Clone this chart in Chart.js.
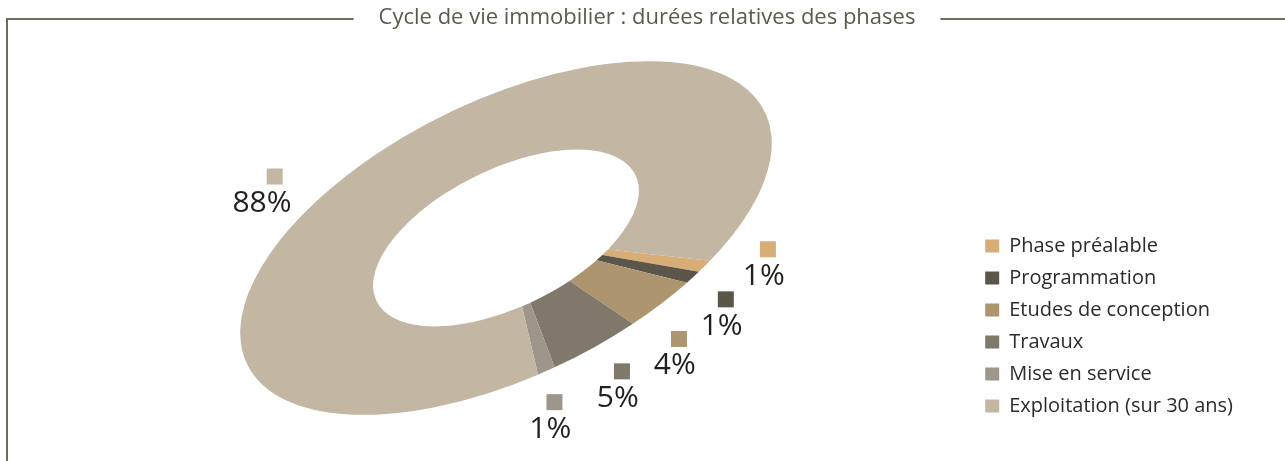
<!DOCTYPE html>
<html lang="fr">
<head>
<meta charset="utf-8">
<title>Cycle de vie immobilier</title>
<script src="https://cdn.jsdelivr.net/npm/chart.js@4.4.1/dist/chart.umd.min.js"></script>
<style>
  html, body { margin: 0; padding: 0; background: #fff; }
  .canvas-container { position: relative; width: 1285px; height: 461px; }
</style>
</head>
<body>
<div class="canvas-container"><canvas id="myChart"></canvas></div>
<script>
const chartTitle = 'Cycle de vie immobilier : durées relatives des phases'
const phases = ['Phase préalable', 'Programmation', 'Etudes de conception', 'Travaux', 'Mise en service', 'Exploitation (sur 30 ans)']
const shares = [1, 1, 4, 5, 1, 88]
const phaseColors = ['#d9ad78', '#5a5649', '#ad9570', '#80786b', '#9e968a', '#c3b6a3']

// where the % tags sit: angle shift (deg) from the slice middle, radius factor
const labelNudge = [[-6.2, 1.21], [3.3, 1.25], [4.9, 1.27], [-0.9, 1.25], [0.2, 1.23], [-13.5, 1.30]]

// the ring is drawn as a tilted ellipse, like the print
const ring = { cx: 506, cy: 238, r: 288, tilt: 26 * Math.PI / 180, flat: 0.478 }

const toScreen = (angle, radius) => {
  const dx = Math.cos(angle) * radius
  const dy = Math.sin(angle) * radius * ring.flat
  const c = Math.cos(ring.tilt), s = Math.sin(ring.tilt)
  return { x: ring.cx + dx * c + dy * s, y: ring.cy - dx * s + dy * c }
}

const framePlugin = {
  id: 'frame',
  beforeDraw(chart) {
    const ctx = chart.ctx
    ctx.save()
    ctx.font = '22px "Open Sans"'
    const tw = ctx.measureText(chartTitle).width
    const tx = 647, ly = 19
    ctx.strokeStyle = '#6d6c5e'
    ctx.lineWidth = 2
    ctx.beginPath()
    ctx.moveTo(7, chart.height)
    ctx.lineTo(7, ly)
    ctx.lineTo(tx - tw / 2 - 25, ly)
    ctx.moveTo(tx + tw / 2 + 25, ly)
    ctx.lineTo(chart.width, ly)
    ctx.stroke()
    ctx.fillStyle = '#5b5a4c'
    ctx.textAlign = 'center'
    ctx.textBaseline = 'middle'
    ctx.fillText(chartTitle, tx, 18)
    ctx.restore()
  }
}

const tiltPlugin = {
  id: 'tilt',
  beforeDatasetsDraw(chart) {
    const arc = chart.getDatasetMeta(0).data[0]
    const k = ring.r / arc.outerRadius
    const ctx = chart.ctx
    ctx.save()
    ctx.translate(ring.cx, ring.cy)
    ctx.rotate(-ring.tilt)
    ctx.scale(k, k * ring.flat)
    ctx.translate(-arc.x, -arc.y)
  },
  afterDatasetsDraw(chart) {
    const ctx = chart.ctx
    ctx.restore()
    ctx.save()
    chart.getDatasetMeta(0).data.forEach((arc, i) => {
      const mid = (arc.startAngle + arc.endAngle) / 2 + labelNudge[i][0] * Math.PI / 180
      const p = toScreen(mid, ring.r * labelNudge[i][1])
      ctx.fillStyle = phaseColors[i]
      ctx.fillRect(p.x - 8, p.y - 8, 16, 16)
      ctx.font = '30px "Open Sans"'
      ctx.fillStyle = '#231f20'
      ctx.textAlign = 'left'
      ctx.textBaseline = 'alphabetic'
      const num = String(shares[i])
      const w = ctx.measureText(num).width
      ctx.fillText(num + '%', p.x - 8 - w, p.y + 35.5)
    })
    ctx.restore()
  }
}

const data = {
  labels: phases,
  datasets: [
    {
      data: shares,
      backgroundColor: phaseColors,
      borderWidth: 0
    }
  ]
}

const config = {
  type: 'doughnut',
  data: data,
  options: {
    responsive: true,
    maintainAspectRatio: false,
    animation: false,
    cutout: '50%',
    rotation: 143,
    layout: { padding: { top: 40, right: 42, bottom: 33, left: 20 } },
    plugins: {
      tooltip: { enabled: false },
      legend: {
        position: 'right',
        align: 'end',
        labels: {
          boxWidth: 14,
          boxHeight: 13,
          padding: 12,
          color: '#2b2b2b',
          font: { family: '"Open Sans"', size: 20 }
        }
      }
    }
  },
  plugins: [framePlugin, tiltPlugin]
}

const myChart = new Chart(document.getElementById('myChart'), config)
</script>
</body>
</html>
